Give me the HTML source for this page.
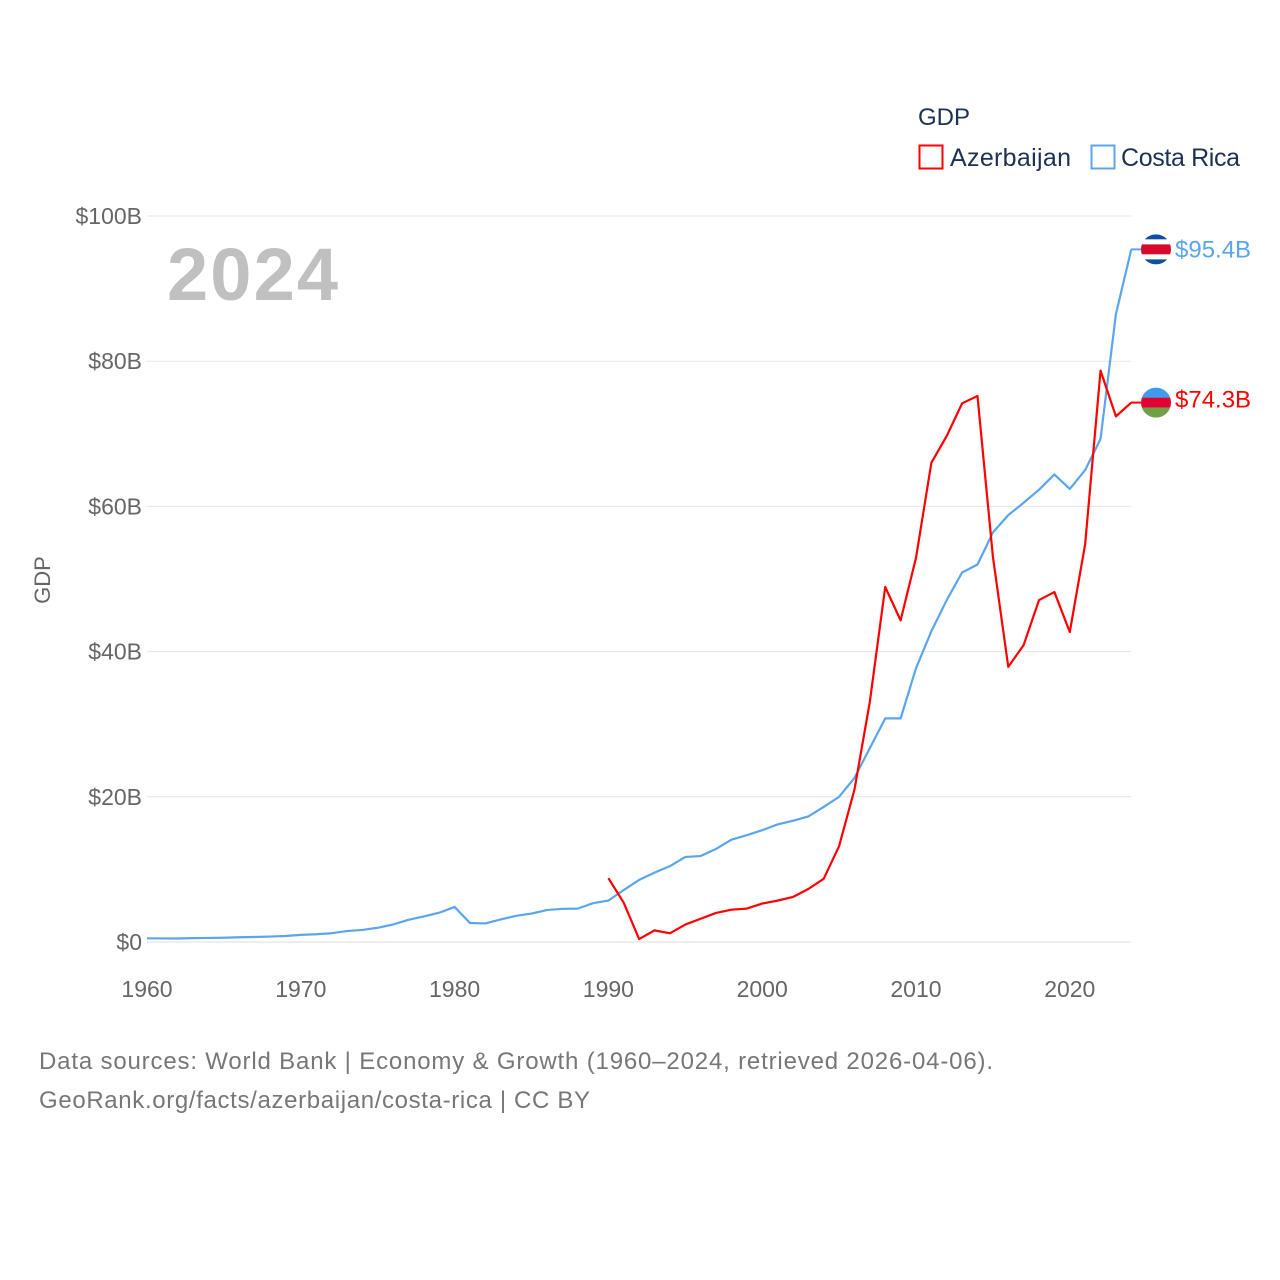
<!DOCTYPE html>
<html><head><meta charset="utf-8">
<style>
body{margin:0;background:#fff;font-family:"Liberation Sans",sans-serif;}
svg{display:block}
</style></head>
<body>
<svg id="chart" width="1280" height="1280" xmlns="http://www.w3.org/2000/svg">
  <text x="918" y="125" font-size="24" fill="#1d3152">GDP</text>
  <g>
    <rect x="919.5" y="145.5" width="23" height="23" fill="none" stroke="#ff0000" stroke-width="2"/>
    <text x="950" y="166" font-size="25" fill="#1d3152" textLength="121">Azerbaijan</text>
  </g>
  <g>
    <rect x="1091.5" y="145.5" width="23" height="23" fill="none" stroke="#5aa5ee" stroke-width="2"/>
    <text x="1121" y="166" font-size="25" fill="#1d3152" textLength="119">Costa Rica</text>
  </g>
  <text x="167" y="300" font-size="74" font-weight="bold" fill="#c0c0c0" textLength="171">2024</text>
  <text transform="translate(50,580) rotate(-90)" text-anchor="middle" font-size="22" fill="#666">GDP</text>
  <g id="grid"></g>
  <g id="lines"></g>
  <g id="ends"></g>
  <text x="39" y="1069" font-size="24" fill="#777" textLength="954">Data sources: World Bank | Economy &amp; Growth (1960–2024, retrieved 2026-04-06).</text>
  <text x="39" y="1108" font-size="24" fill="#777" textLength="551">GeoRank.org/facts/azerbaijan/costa-rica | CC BY</text>
</svg>
<script>
const yTicks=[0,20,40,60,80,100];
const xTicks=[1960,1970,1980,1990,2000,2010,2020];
const crYears=[];for(let y=1960;y<=2024;y++)crYears.push(y);
const crValues=[0.51,0.49,0.48,0.53,0.56,0.59,0.65,0.69,0.75,0.83,0.98,1.07,1.21,1.51,1.66,1.96,2.41,3.05,3.52,4.03,4.83,2.62,2.56,3.1,3.61,3.92,4.4,4.57,4.6,5.35,5.71,7.16,8.55,9.56,10.45,11.72,11.84,12.82,14.1,14.71,15.4,16.2,16.7,17.3,18.6,20.0,22.6,26.7,30.8,30.8,37.7,42.8,47.1,50.9,52.0,56.4,58.8,60.5,62.3,64.4,62.4,65.0,69.3,86.5,95.4];
const azYears=[];for(let y=1990;y<=2024;y++)azYears.push(y);
const azValues=[8.8,5.4,0.4,1.6,1.2,2.4,3.2,4.0,4.45,4.6,5.3,5.7,6.2,7.3,8.7,13.2,21.0,33.1,48.9,44.3,52.9,66.0,69.7,74.2,75.2,53.1,37.9,40.9,47.1,48.2,42.7,54.8,78.7,72.4,74.3];
const X=y=>147+(y-1960)*(1131.3-147)/64;
const Y=v=>942-v*7.26;
const NS="http://www.w3.org/2000/svg";
function mk(tag,attrs,parent){const e=document.createElementNS(NS,tag);for(const k in attrs)e.setAttribute(k,attrs[k]);parent.appendChild(e);return e;}
const grid=document.getElementById('grid');
yTicks.forEach(t=>{
  const l=mk('line',{x1:147,x2:1131,y1:Y(t),y2:Y(t),stroke:t===0?'#dddddd':'#e6e6e6','stroke-width':1},grid);
  
  
  const tx=mk('text',{x:142,y:Y(t)+8,'text-anchor':'end','font-size':23,fill:'#666'},grid);
  tx.textContent='$'+t+(t?'B':'');
  
  
});
xTicks.forEach(t=>{
  const tx=mk('text',{x:X(t),y:997,'text-anchor':'middle','font-size':23,fill:'#666'},grid);
  tx.textContent=t;
  
  
});
const lines=document.getElementById('lines');
function series(years,vals,color,name){
  const p=mk('polyline',{points:years.map((y,i)=>X(y)+','+Y(vals[i])).join(' '),fill:'none',stroke:color,'stroke-width':2.2,'stroke-linejoin':'round'},lines);
  
  
}
series(crYears,crValues,'#5aa5ee','line-costa-rica');
series(azYears,azValues,'#ff0000','line-azerbaijan');
const ends=document.getElementById('ends');
function endLabel(v,color,name,flag,dy){
  const cy=Y(v), cx=1156;
  const g=mk('g',{},ends);
  
  
  mk('line',{x1:1131,x2:1141,y1:cy,y2:cy,stroke:color,'stroke-width':2},g);
  const cp='clip'+name;
  const c=mk('clipPath',{id:cp},g);mk('circle',{cx:cx,cy:cy,r:15},c);
  const fg=mk('g',{'clip-path':'url(#'+cp+')'},g);
  flag.forEach(s=>mk('rect',{x:cx-15,y:cy-15+s[0],width:30,height:s[1],fill:s[2]},fg));
  const t=mk('text',{x:1175,y:cy+dy,'font-size':24,fill:color},g);
  t.textContent='$'+v.toFixed(1)+'B';
}
endLabel(crValues[crValues.length-1],'#5aa5ee','end-label-costa-rica',[[0,5,'#0b4ea2'],[5,5,'#fff'],[10,10,'#d60a2c'],[20,5,'#fff'],[25,5,'#0b4ea2']],8);
endLabel(azValues[azValues.length-1],'#ff0000','end-label-azerbaijan',[[0,10,'#3f9cf0'],[10,10,'#e00034'],[20,10,'#6fa046']],5);
</script>
</body></html>
